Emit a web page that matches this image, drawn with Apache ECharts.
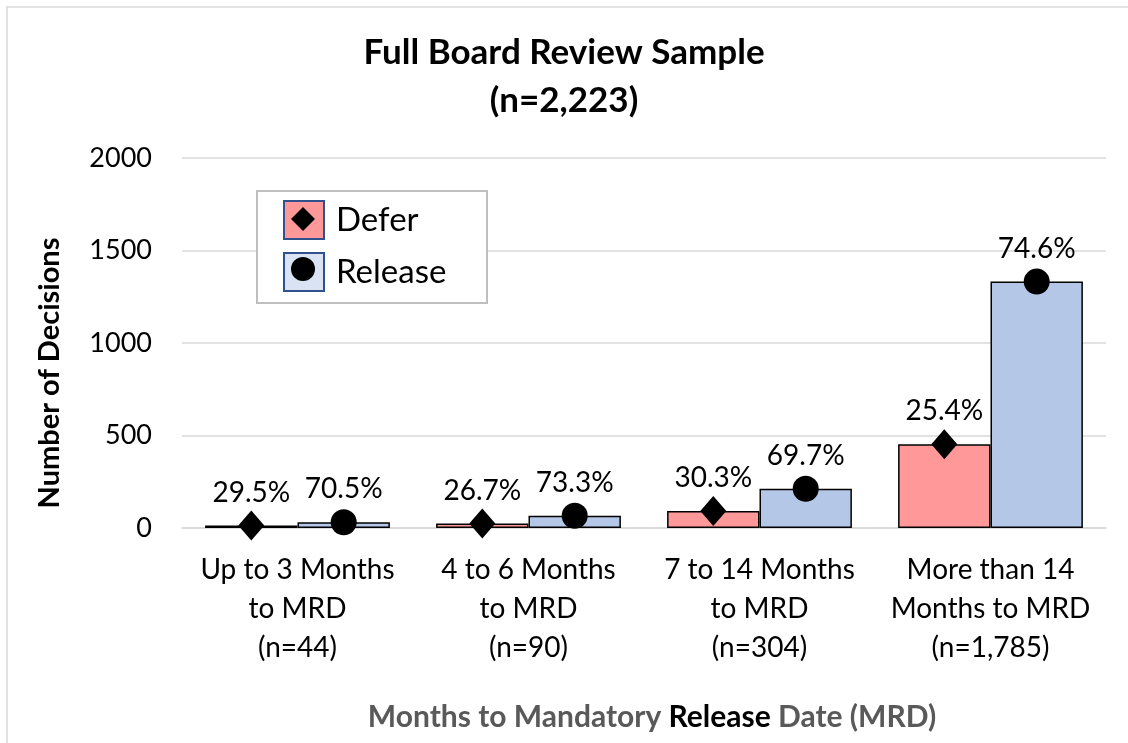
<!DOCTYPE html>
<html>
<head>
<meta charset="utf-8">
<script src="https://cdn.jsdelivr.net/npm/echarts@6/dist/echarts.min.js"></script>
<style>
  html, body { margin: 0; padding: 0; background: #fff; }
  #myChart { width: 1128px; height: 743px; }
</style>
</head>
<body>
<div id="myChart"></div>
<script>
// chart data
const categories = [
  'Up to 3 Months\nto MRD\n(n=44)',
  '4 to 6 Months\nto MRD\n(n=90)',
  '7 to 14 Months\nto MRD\n(n=304)',
  'More than 14\nMonths to MRD\n(n=1,785)'
]
const deferCounts = [13, 24, 92, 453]
const releaseCounts = [31, 66, 212, 1332]
const deferPct = ['29.5%', '26.7%', '30.3%', '25.4%']
const releasePct = ['70.5%', '73.3%', '69.7%', '74.6%']
const yTicks = [0, 500, 1000, 1500, 2000]

const font = 'Lato, "Open Sans", sans-serif'

// scatter points sit on a hidden value axis 0..4, bar centres at i+0.3 / i+0.7
const deferPts = deferCounts.map((v, i) => [i + 0.3, v])
const releasePts = releaseCounts.map((v, i) => [i + 0.7, v])

let options = {
  animation: false,
  textStyle: { fontFamily: font },
  title: {
    text: 'Full Board Review Sample\n(n=2,223)',
    left: 'center',
    top: 24,
    textStyle: { fontFamily: font, fontWeight: 'bold', fontSize: 35, lineHeight: 48, color: '#000' }
  },
  graphic: [
    // outer frame
    { type: 'rect', shape: { x: 7, y: 7, width: 1140, height: 760 }, style: { fill: 'none', stroke: '#d9d9d9', lineWidth: 1.5 }, silent: true },
    // legend box
    { type: 'rect', shape: { x: 257, y: 191, width: 230, height: 112 }, style: { fill: '#fff', stroke: '#bfbfbf', lineWidth: 2 }, z: 1 },
    // legend markers on top of the icons
    { type: 'polygon', shape: { points: [[303, 207], [315, 219], [303, 231], [291, 219]] }, style: { fill: '#000' }, z: 100 },
    { type: 'circle', shape: { cx: 303, cy: 269, r: 12 }, style: { fill: '#000' }, z: 100 }
  ],
  legend: {
    orient: 'vertical',
    left: 283,
    top: 200,
    padding: 0,
    itemWidth: 40,
    itemHeight: 38,
    itemGap: 12,
    selectedMode: false,
    textStyle: { fontFamily: font, fontSize: 33, color: '#000', padding: [10, 0, 0, 7] },
    data: [
      { name: 'Defer', icon: 'rect', itemStyle: { color: '#ff9999', borderColor: '#2f528f', borderWidth: 2 } },
      { name: 'Release', icon: 'rect', itemStyle: { color: '#dae3f3', borderColor: '#2f528f', borderWidth: 2 } }
    ]
  },
  grid: { left: 182, right: 22, top: 158, bottom: 215 },
  xAxis: [
    {
      type: 'category',
      data: categories,
      axisTick: { show: false },
      axisLine: { lineStyle: { color: '#d9d9d9', width: 1.5 } },
      axisLabel: { fontFamily: font, fontSize: 28, lineHeight: 39, color: '#000', margin: 22, interval: 0 },
      name: '{g|Months to Mandatory }{b|Release}{g| Date (MRD)}',
      nameLocation: 'middle',
      nameGap: 174,
      nameTextStyle: {
        padding: [0, 0, 0, 16],
        rich: {
          g: { fontFamily: font, fontSize: 30, fontWeight: 'bold', color: '#595959' },
          b: { fontFamily: font, fontSize: 30, fontWeight: 'bold', color: '#000' }
        }
      }
    },
    { type: 'value', min: 0, max: 4, show: false }
  ],
  yAxis: {
    type: 'value',
    min: yTicks[0],
    max: yTicks[yTicks.length - 1],
    interval: 500,
    axisLine: { show: false },
    axisTick: { show: false },
    splitLine: { lineStyle: { color: '#d9d9d9', width: 1.5 } },
    axisLabel: { fontFamily: font, fontSize: 27, color: '#000', margin: 30, formatter: v => String(v) },
    name: 'Number of Decisions',
    nameLocation: 'middle',
    nameGap: 118,
    nameTextStyle: { fontFamily: font, fontSize: 29, fontWeight: 'bold', color: '#000', padding: [0, 60, 0, 0] }
  },
  series: [
    {
      name: 'Defer',
      type: 'bar',
      barWidth: '40%',
      barGap: '0%',
      data: deferCounts,
      itemStyle: { color: '#ff9999', borderColor: '#000', borderWidth: 1.5 }
    },
    {
      name: 'Release',
      type: 'bar',
      barWidth: '40%',
      data: releaseCounts,
      itemStyle: { color: '#b4c7e7', borderColor: '#000', borderWidth: 1.5 }
    },
    {
      name: 'Defer share',
      type: 'scatter',
      xAxisIndex: 1,
      symbol: 'diamond',
      symbolSize: [26, 30],
      data: deferPts,
      itemStyle: { color: '#000', opacity: 1 },
      label: {
        show: true, position: 'top', distance: 4,
        fontFamily: font, fontSize: 28, color: '#000',
        formatter: p => deferPct[p.dataIndex]
      },
      z: 5
    },
    {
      name: 'Release share',
      type: 'scatter',
      xAxisIndex: 1,
      symbol: 'circle',
      symbolSize: 26,
      data: releasePts,
      itemStyle: { color: '#000', opacity: 1 },
      label: {
        show: true, position: 'top', distance: 6,
        fontFamily: font, fontSize: 28, color: '#000',
        formatter: p => releasePct[p.dataIndex]
      },
      z: 5
    }
  ]
}

let echart = echarts.init(document.getElementById('myChart'))
echart.setOption(options)
</script>
</body>
</html>
